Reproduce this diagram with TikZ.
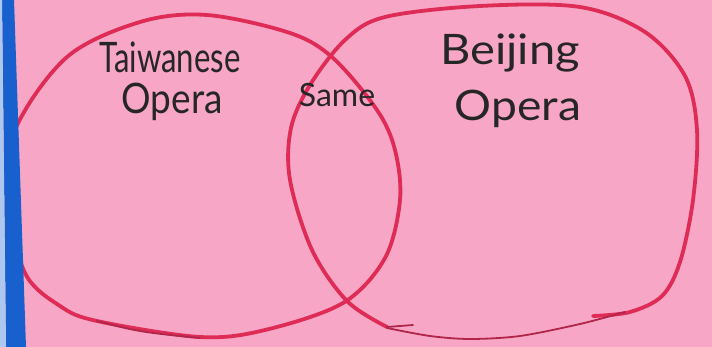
\documentclass[tikz,border=0pt]{standalone}
\usepackage{fontspec}
\setmainfont{Lato}
\usepackage{tikz}
\usetikzlibrary{calc}
\definecolor{cpaper}{RGB}{248,166,197}
\definecolor{cmark}{RGB}{222,44,86}
\definecolor{cthin}{RGB}{176,38,74}
\definecolor{cstrip}{RGB}{24,96,206}

\begin{document}
\begin{tikzpicture}[x=1pt, y=-1pt,
    ring/.style={cmark, line width=3.8pt, line cap=round, line join=round},
    tail/.style={cthin, line width=1.8pt, line cap=round},
    hand/.style={font=\fontsize{42}{42}\selectfont, text=black!85, inner sep=0pt, anchor=base}]
  \useasboundingbox (0,0) rectangle (712,347);
  \fill[cpaper] (0,0) rectangle (712,347);
  % left ring
  \draw[ring] plot[smooth cycle, tension=0.55] coordinates {
      (25,273) (60,306) (97,321) (200,337) (265,330) (343,303) (385,258)
      (400,200) (395,150) (377,110) (333,58) (290,33) (207,15) (140,22)
      (67,57) (15,130) (8,200)};
  % right ring
  \draw[ring] plot[smooth, tension=0.55] coordinates {
      (387,327) (347,301) (312,250) (290,180) (291,128) (310,85) (345,40)
      (385,17) (480,6) (580,7) (645,32) (685,76) (697,130) (693,200)
      (680,262) (662,296) (630,312) (593,316)};
  \draw[tail] plot[smooth, tension=0.5] coordinates {
      (387,328) (430,336) (470,339) (520,336) (580,324) (625,312)};
  \draw[tail] (387,327) -- (413,325);
  \draw[tail] (97,321) .. controls (140,332) .. (200,338);
  % labels
  \node[hand, xscale=0.74] (taiwan) at (170,73) {Taiwanese};
  \node[hand, xscale=0.88] (taiwanop) at (172,114) {Opera};
  \node[hand, font=\fontsize{32}{32}\selectfont] (same) at (337,107) {Same};
  \node[hand, xscale=1.12] (beijing) at (510,65) {Beijing};
  \node[hand, xscale=1.1] (beijingop) at (518,121) {Opera};
  % marker on the left edge
  \fill[cstrip] (2,0) -- (14,0) -- (26,347) -- (6,347) -- cycle;
  \fill[cstrip!35!white] (0,0) -- (2,0) -- (6,347) -- (0,347) -- cycle;
\end{tikzpicture}
\end{document}
